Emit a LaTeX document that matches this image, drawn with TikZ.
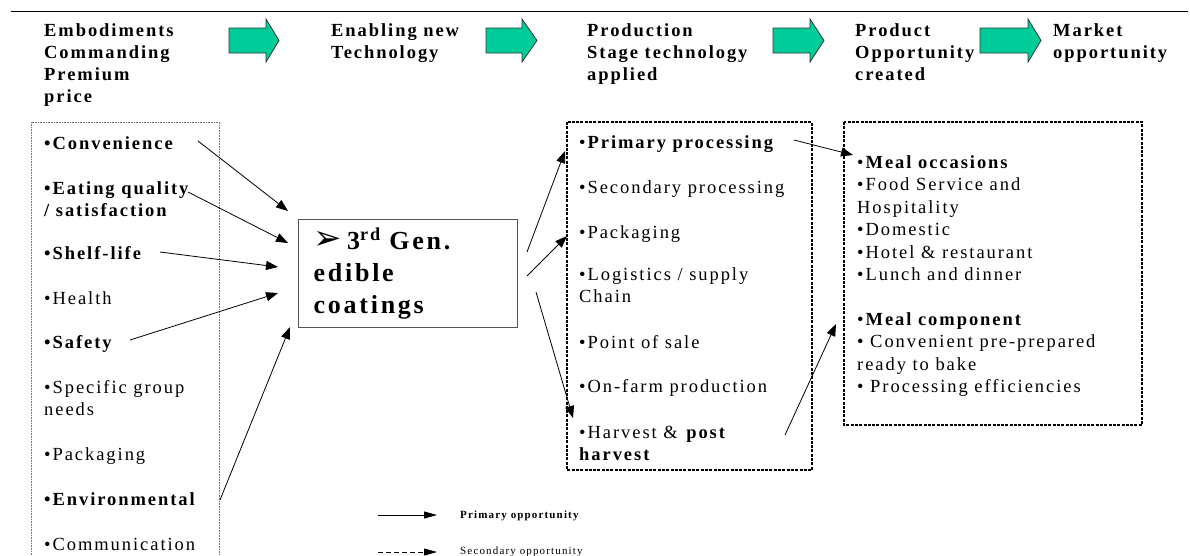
\documentclass[tikz,border=0pt]{standalone}
\usepackage{fontspec}
\setmainfont{Liberation Serif}[LetterSpace=10.5]
\newfontfamily\symfont{DejaVu Sans}
\usetikzlibrary{arrows.meta}

\definecolor{flowgreen}{HTML}{00CC99}
\definecolor{coreframe}{HTML}{555555}

% left-aligned stack of lines; the baseline is that of the first line
\newcommand\stack[1]{\vtop{\halign{##\hfil\cr#1\crcr}}}
\newcommand\bodysize{\fontsize{18.5pt}{22pt}\selectfont}
% block arrow between the stage headings
\newcommand\flowarrow[3]{\draw[flow] (#1,28) -- (#2,28) -- (#2,19) -- (#3,40.5) -- (#2,62) -- (#2,53) -- (#1,53) -- cycle;}

\tikzset{
  head/.style={anchor=base west, inner sep=0pt, font=\bodysize\bfseries},
  item/.style={anchor=base west, inner sep=0pt, font=\bodysize},
  flow/.style={fill=flowgreen, draw=black!80, line width=0.8pt, line join=miter},
  leftframe/.style={draw=black!55, line width=0.7pt, dash pattern=on 0.8pt off 0.8pt},
  dbox/.style={draw=black, line width=1.2pt, dash pattern=on 3pt off 1.3pt},
  prim/.style={-{Triangle[length=12pt,width=9pt]}, line width=0.8pt},
  legendtip/.style={-{Triangle[length=13pt,width=7pt]}, line width=0.8pt},
  core/.style={draw=coreframe, line width=1.4pt, anchor=north west, text width=189pt,
    inner xsep=15pt, inner ysep=0pt, minimum height=108pt, align=left,
    font=\fontsize{26pt}{32pt}\selectfont\bfseries},
}

\begin{document}
\begin{tikzpicture}[x=1pt,y=-1pt]
\useasboundingbox (0,0) rectangle (1190,555);

% rule across the top
\draw[line width=1pt] (11,11) -- (1188,11);

% stage headings
\node[head] (h1) at (44,36)   {\stack{Embodiments\cr Commanding\cr Premium\cr price}};
\node[head] (h2) at (331,36)  {\stack{Enabling new\cr Technology}};
\node[head] (h3) at (587,36)  {\stack{Production\cr Stage technology\cr applied}};
\node[head] (h4) at (855,36)  {\stack{Product\cr Opportunity\cr created}};
\node[head] (h5) at (1053,36) {\stack{Market\cr opportunity}};

\flowarrow{229}{266}{279}
\flowarrow{486}{522}{537}
\flowarrow{773}{810}{824}
\flowarrow{980}{1028}{1041}

% frames
\draw[leftframe] (31,555) -- (31,122) -- (219,122) -- (219,555);
\draw[dbox] (567,122) rectangle (812,470);
\draw[dbox] (844,122) rectangle (1142,425);

% premium-price embodiments
\node[item] (conv)   at (44,149) {\bfseries •Convenience};
\node[item] (eat)    at (44,194) {\bfseries\stack{•Eating quality\cr / satisfaction}};
\node[item] (shelf)  at (44,259) {\bfseries •Shelf-life};
\node[item] (health) at (44,304) {•Health};
\node[item] (safety) at (44,348) {\bfseries •Safety};
\node[item] (spec)   at (44,393) {\stack{•Specific group\cr needs}};
\node[item] (lpack)  at (44,460) {•Packaging};
\node[item] (env)    at (44,505) {\bfseries •Environmental};
\node[item] (comm)   at (44,550) {•Communication};

% enabling technology
\node[core] (core) at (298,219)
  {{\symfont\fontsize{34pt}{32pt}\selectfont ➢}\kern5pt 3\textsuperscript{rd} Gen.\\ edible\\ coatings};

% production stages
\node[item] (prim)  at (579,148) {•\textbf{Primary processing}};
\node[item] (sec)   at (579,193) {•Secondary processing};
\node[item] (mpack) at (579,238) {•Packaging};
\node[item] (logi)  at (579,280) {\stack{•Logistics / supply\cr Chain}};
\node[item] (pos)   at (579,348) {•Point of sale};
\node[item] (farm)  at (579,392) {•On-farm production};
\node[item] (harv)  at (579,438) {\stack{•Harvest \& \textbf{post}\cr \textbf{harvest}}};

% product and market opportunities
\node[item, font=\fontsize{18.5pt}{22.5pt}\selectfont] (occ) at (857,168)
  {\stack{•\textbf{Meal occasions}\cr •Food Service and\cr Hospitality\cr •Domestic\cr •Hotel \& restaurant\cr •Lunch and dinner}};
\node[item, font=\fontsize{18.5pt}{22.5pt}\selectfont] (comp) at (857,325)
  {\stack{•\textbf{Meal component}\cr • Convenient pre-prepared\cr ready to bake\cr • Processing efficiencies}};

% connector end points
\coordinate (s1) at (198,141);  \coordinate (t1) at (288,211);
\coordinate (s2) at (188,192);  \coordinate (t2) at (288,243);
\coordinate (s3) at (160,252);  \coordinate (t3) at (278,267);
\coordinate (s4) at (130,340);  \coordinate (t4) at (278,293);
\coordinate (s5) at (220,500);  \coordinate (t5) at (290,327);
\coordinate (s6) at (527,252);  \coordinate (t6) at (565,151);
\coordinate (s7) at (527,276);  \coordinate (t7) at (567,236);
\coordinate (s8) at (536,292);  \coordinate (t8) at (573,418);
\coordinate (s9) at (794,140);  \coordinate (t9) at (853,155);
\coordinate (s10) at (785,435); \coordinate (t10) at (836,324);

\draw[prim] (s1) -- (t1);
\draw[prim] (s2) -- (t2);
\draw[prim] (s3) -- (t3);
\draw[prim] (s4) -- (t4);
\draw[prim] (s5) -- (t5);
\draw[prim] (s6) -- (t6);
\draw[prim] (s7) -- (t7);
\draw[prim] (s8) -- (t8);
\draw[prim] (s9) -- (t9);
\draw[prim] (s10) -- (t10);

% legend
\coordinate (l1a) at (378,515); \coordinate (l1b) at (437,515);
\coordinate (l2a) at (378,552); \coordinate (l2b) at (437,552);
\draw[legendtip] (l1a) -- (l1b);
\draw[legendtip, dash pattern=on 5pt off 3pt] (l2a) -- (l2b);
\node[anchor=base west, inner sep=0pt, font=\fontsize{11pt}{13pt}\selectfont\bfseries] (lprim) at (460,518) {Primary opportunity};
\node[anchor=base west, inner sep=0pt, font=\fontsize{11pt}{13pt}\selectfont] (lsec) at (460,554) {Secondary opportunity};
\end{tikzpicture}
\end{document}
